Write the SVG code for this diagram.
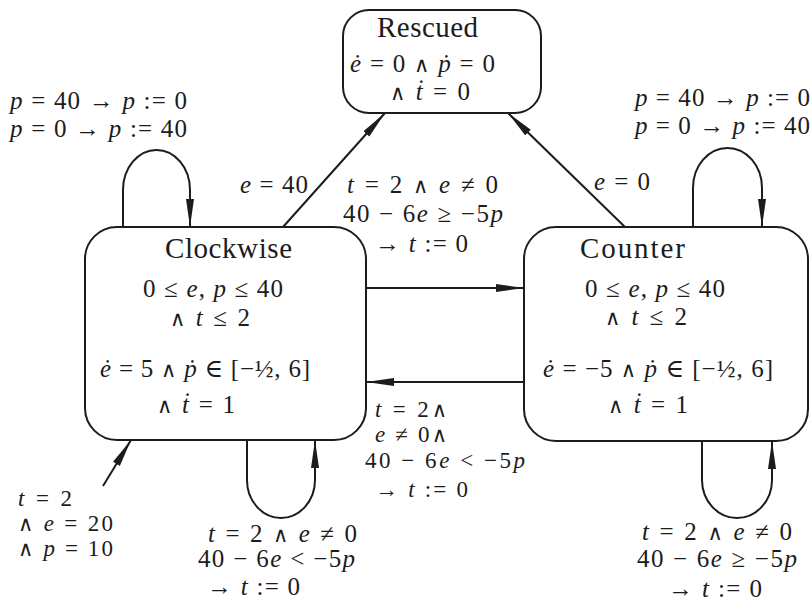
<svg xmlns="http://www.w3.org/2000/svg" width="811" height="603" viewBox="0 0 811 603">
<style>
.bg{fill:#ffffff}
.box{fill:#ffffff;stroke:#1c1c1c;stroke-width:2}
.edge{fill:none;stroke:#1c1c1c;stroke-width:2}
text{font-family:"Liberation Serif","DejaVu Serif",serif;fill:#1c1c1c;font-size:25px}
.ttl{font-size:29px}
.i{font-style:italic}
.op{font-family:"DejaVu Serif",serif;font-size:21px}
.sm{font-size:23px}
</style>
<defs>
<marker id="arr" markerUnits="userSpaceOnUse" markerWidth="30" markerHeight="10" refX="28" refY="4" orient="auto">
<path d="M0,0 L28,4 L0,8 Z" fill="#1c1c1c"/>
</marker>
</defs>
<rect class="bg" x="0" y="0" width="811" height="603"/>

<g id="edges">
<line class="edge" x1="283" y1="227" x2="385" y2="113" marker-end="url(#arr)"/>
<line class="edge" x1="625" y1="227" x2="508" y2="113" marker-end="url(#arr)"/>
<line class="edge" x1="366" y1="288" x2="524" y2="288" marker-end="url(#arr)"/>
<line class="edge" x1="524" y1="382" x2="366" y2="382" marker-end="url(#arr)"/>
<path class="edge" d="M123,227 V190 A33.5,40 0 0 1 190,190 V227" marker-end="url(#arr)"/>
<path class="edge" d="M693,227 V188 A34.5,40 0 0 1 762,188 V227" marker-end="url(#arr)"/>
<path class="edge" d="M247,440 V480 A34,38 0 0 0 315,480 V440" marker-end="url(#arr)"/>
<path class="edge" d="M702,441 V480 A35,38 0 0 0 772,480 V441" marker-end="url(#arr)"/>
<line class="edge" x1="103" y1="486" x2="131" y2="440" marker-end="url(#arr)"/>
</g>

<g id="rescued">
<rect class="box" x="343" y="10" width="198" height="103" rx="26" ry="26"/>
<text class="ttl" x="377" y="37" textLength="101">Rescued</text>
<text x="350" y="72" textLength="145"><tspan class="i">ė</tspan> = 0 <tspan class="op">∧</tspan> <tspan class="i">ṗ</tspan> = 0</text>
<text x="390" y="100" textLength="80"><tspan class="op">∧</tspan> <tspan class="i">ṫ</tspan> = 0</text>
</g>

<g id="clockwise">
<rect class="box" x="85" y="227" width="281" height="213" rx="32" ry="32"/>
<text class="ttl" x="165" y="258" textLength="127">Clockwise</text>
<text x="143" y="297" textLength="140">0 ≤ <tspan class="i">e</tspan>, <tspan class="i">p</tspan> ≤ 40</text>
<text x="170" y="326" textLength="80"><tspan class="op">∧</tspan> <tspan class="i">t</tspan> ≤ 2</text>
<text x="100" y="377" textLength="210"><tspan class="i">ė</tspan> = 5 <tspan class="op">∧</tspan>  <tspan class="i">ṗ</tspan> ∈ [−½, 6]</text>
<text x="157" y="413" textLength="78"><tspan class="op">∧</tspan> <tspan class="i">ṫ</tspan> = 1</text>
</g>

<g id="counter">
<rect class="box" x="524" y="227" width="284" height="214" rx="32" ry="32"/>
<text class="ttl" x="580" y="258" textLength="105">Counter</text>
<text x="585" y="297" textLength="140">0 ≤ <tspan class="i">e</tspan>, <tspan class="i">p</tspan> ≤ 40</text>
<text x="605" y="325" textLength="82"><tspan class="op">∧</tspan> <tspan class="i">t</tspan> ≤ 2</text>
<text x="543" y="377" textLength="230"><tspan class="i">ė</tspan> = −5 <tspan class="op">∧</tspan>  <tspan class="i">ṗ</tspan> ∈ [−½, 6]</text>
<text x="608" y="413" textLength="80"><tspan class="op">∧</tspan> <tspan class="i">ṫ</tspan> = 1</text>
</g>

<g id="labels">
<text x="10" y="109" textLength="177"><tspan class="i">p</tspan> = 40 → <tspan class="i">p</tspan> := 0</text>
<text x="10" y="137" textLength="177"><tspan class="i">p</tspan> = 0 → <tspan class="i">p</tspan> := 40</text>
<text x="635" y="106" textLength="175"><tspan class="i">p</tspan> = 40 → <tspan class="i">p</tspan> := 0</text>
<text x="635" y="134" textLength="175"><tspan class="i">p</tspan> = 0 → <tspan class="i">p</tspan> := 40</text>
<text x="240" y="193" textLength="68"><tspan class="i">e</tspan> = 40</text>
<text x="594" y="190" textLength="56"><tspan class="i">e</tspan> = 0</text>
<text x="347" y="193" textLength="151"><tspan class="i">t</tspan> = 2 <tspan class="op">∧</tspan>  <tspan class="i">e</tspan> ≠ 0</text>
<text x="343" y="222" textLength="160">40 − 6<tspan class="i">e</tspan> ≥ −5<tspan class="i">p</tspan></text>
<text x="375" y="252" textLength="93">→ <tspan class="i">t</tspan> := 0</text>
<text class="sm" x="375" y="417" textLength="72"><tspan class="i">t</tspan> = 2<tspan class="op">∧</tspan></text>
<text class="sm" x="375" y="442" textLength="72"><tspan class="i">e</tspan> ≠ 0<tspan class="op">∧</tspan></text>
<text class="sm" x="365" y="468" textLength="160">40 − 6<tspan class="i">e</tspan> &lt; −5<tspan class="i">p</tspan></text>
<text class="sm" x="375" y="497" textLength="93">→ <tspan class="i">t</tspan> := 0</text>
<text class="sm" x="18" y="506" textLength="54"><tspan class="i">t</tspan> = 2</text>
<text class="sm" x="18" y="531" textLength="95"><tspan class="op">∧</tspan> <tspan class="i">e</tspan> = 20</text>
<text class="sm" x="18" y="556" textLength="95"><tspan class="op">∧</tspan> <tspan class="i">p</tspan> = 10</text>
<text x="208" y="542" textLength="149"><tspan class="i">t</tspan> = 2 <tspan class="op">∧</tspan>  <tspan class="i">e</tspan> ≠ 0</text>
<text x="198" y="567" textLength="157">40 − 6<tspan class="i">e</tspan> &lt; −5<tspan class="i">p</tspan></text>
<text x="207" y="595" textLength="93">→ <tspan class="i">t</tspan> := 0</text>
<text x="642" y="540" textLength="150"><tspan class="i">t</tspan> = 2 <tspan class="op">∧</tspan>  <tspan class="i">e</tspan> ≠ 0</text>
<text x="637" y="567" textLength="160">40 − 6<tspan class="i">e</tspan> ≥ −5<tspan class="i">p</tspan></text>
<text x="668" y="597" textLength="94">→ <tspan class="i">t</tspan> := 0</text>
</g>
</svg>
